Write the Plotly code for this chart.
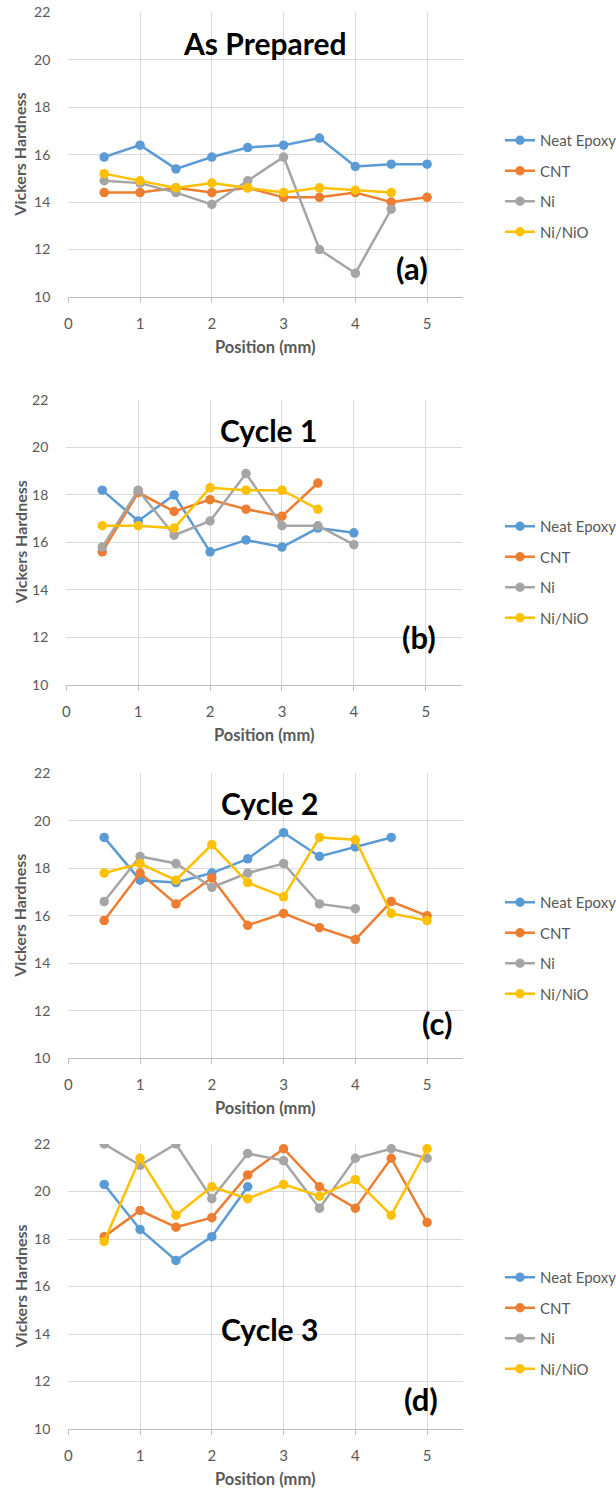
import plotly.graph_objects as go

positions = [0.5, 1.0, 1.5, 2.0, 2.5, 3.0, 3.5, 4.0, 4.5, 5.0]
series_names = ["Neat Epoxy", "CNT", "Ni", "Ni/NiO"]
colors = ["#5B9BD5", "#ED7D31", "#A5A5A5", "#FFC000"]

# (a) As Prepared
a_neat = [15.9, 16.4, 15.4, 15.9, 16.3, 16.4, 16.7, 15.5, 15.6, 15.6]
a_cnt = [14.4, 14.4, 14.6, 14.4, 14.6, 14.2, 14.2, 14.4, 14.0, 14.2]
a_ni = [14.9, 14.8, 14.4, 13.9, 14.9, 15.9, 12.0, 11.0, 13.7]
a_ninio = [15.2, 14.9, 14.6, 14.8, 14.6, 14.4, 14.6, 14.5, 14.4]

# (b) Cycle 1
b_neat = [18.2, 16.9, 18.0, 15.6, 16.1, 15.8, 16.6, 16.4]
b_cnt = [15.6, 18.1, 17.3, 17.8, 17.4, 17.1, 18.5]
b_ni = [15.8, 18.2, 16.3, 16.9, 18.9, 16.7, 16.7, 15.9]
b_ninio = [16.7, 16.7, 16.6, 18.3, 18.2, 18.2, 17.4]

# (c) Cycle 2
c_neat = [19.3, 17.5, 17.4, 17.8, 18.4, 19.5, 18.5, 18.9, 19.3]
c_cnt = [15.8, 17.8, 16.5, 17.6, 15.6, 16.1, 15.5, 15.0, 16.6, 16.0]
c_ni = [16.6, 18.5, 18.2, 17.2, 17.8, 18.2, 16.5, 16.3]
c_ninio = [17.8, 18.2, 17.5, 19.0, 17.4, 16.8, 19.3, 19.2, 16.1, 15.8]

# (d) Cycle 3
d_neat = [20.3, 18.4, 17.1, 18.1, 20.2]
d_cnt = [18.1, 19.2, 18.5, 18.9, 20.7, 21.8, 20.2, 19.3, 21.4, 18.7]
d_ni = [22.0, 21.1, 22.0, 19.7, 21.6, 21.3, 19.3, 21.4, 21.8, 21.4]
d_ninio = [17.9, 21.4, 19.0, 20.2, 19.7, 20.3, 19.8, 20.5, 19.0, 21.8]

panel_titles = ["As Prepared", "Cycle 1", "Cycle 2", "Cycle 3"]
panel_labels = ["(a)", "(b)", "(c)", "(d)"]
panels = [
    [a_neat, a_cnt, a_ni, a_ninio],
    [b_neat, b_cnt, b_ni, b_ninio],
    [c_neat, c_cnt, c_ni, c_ninio],
    [d_neat, d_cnt, d_ni, d_ninio],
]

x_ticks = [0, 1, 2, 3, 4, 5]
y_ticks = [10, 12, 14, 16, 18, 20, 22]
x_title = "Position (mm)"
y_title = "Vickers Hardness"

W, H = 616, 1492
FONT = "Lato"
GRAY_TXT = "#595959"

# plot areas in pixels: (left, right, top, bottom)
boxes = [
    (68.3, 463.0, 12.3, 297.0),
    (66.3, 461.7, 400.0, 684.7),
    (68.3, 463.0, 773.3, 1058.3),
    (68.3, 463.0, 1144.0, 1429.0),
]
# title / label anchor (data coords)
title_pos = [(2.74, 20.71), (2.81, 20.74), (2.80, 20.76), (2.80, 14.2)]
label_pos = [(4.79, 11.23), (4.91, 12.02), (5.15, 11.5), (4.92, 11.25)]
legend_tops = [124, 510, 886, 1261]

fig = go.Figure()
layout = dict(
    width=W, height=H,
    margin=dict(l=0, r=0, t=0, b=0, autoexpand=False),
    paper_bgcolor="white", plot_bgcolor="white",
    font=dict(family=FONT, color=GRAY_TXT, size=14),
    annotations=[],
)

for i, (data, box) in enumerate(zip(panels, boxes)):
    n = i + 1
    xa = "x" if n == 1 else f"x{n}"
    ya = "y" if n == 1 else f"y{n}"
    lg = "legend" if n == 1 else f"legend{n}"
    for j, (vals, name, col) in enumerate(zip(data, series_names, colors)):
        fig.add_trace(go.Scatter(
            x=positions[:len(vals)], y=vals, name=name,
            mode="lines+markers",
            line=dict(color=col, width=2.5),
            marker=dict(color=col, size=9.5),
            xaxis=xa, yaxis=ya, legend=lg,
            legendgroup=f"{n}-{j}",
        ))
    l, r, t, b = box
    xdom = [l / W, r / W]
    ydom = [1 - b / H, 1 - t / H]
    xkey = "xaxis" if n == 1 else f"xaxis{n}"
    ykey = "yaxis" if n == 1 else f"yaxis{n}"
    layout[xkey] = dict(
        domain=xdom, anchor=ya, range=[0, 5.5], automargin=False,
        tickvals=x_ticks, showgrid=True, gridcolor="#D9D9D9", gridwidth=1,
        zeroline=False, showline=True, linecolor="#BFBFBF", linewidth=1,
        ticks="outside", ticklen=5, tickcolor="#BFBFBF",
        tickfont=dict(family=FONT, size=15, color=GRAY_TXT),
        ticklabelstandoff=8,
    )
    layout[ykey] = dict(
        domain=ydom, anchor=xa, range=[10, 22], automargin=False,
        tickvals=y_ticks, showgrid=True, gridcolor="#D9D9D9", gridwidth=1,
        zeroline=False, showline=False,
        ticks="", tickfont=dict(family=FONT, size=14, color=GRAY_TXT),
        ticklabelstandoff=17,
    )
    layout[lg] = dict(
        x=500 / W, xanchor="left", y=1 - legend_tops[i] / H, yanchor="top",
        font=dict(family=FONT, size=15, color=GRAY_TXT),
        bgcolor="rgba(0,0,0,0)", tracegroupgap=8, traceorder="grouped",
    )
    layout["annotations"] += [
        dict(text=f"<b>{panel_titles[i]}</b>", x=title_pos[i][0], y=title_pos[i][1],
             xref=xa, yref=ya, showarrow=False, xanchor="center", yanchor="middle",
             font=dict(family=FONT, size=30, color="black")),
        dict(text=f"<b>{panel_labels[i]}</b>", x=label_pos[i][0], y=label_pos[i][1],
             xref=xa, yref=ya, showarrow=False, xanchor="center", yanchor="middle",
             font=dict(family=FONT, size=31, color="black")),
        dict(text=f"<b>{x_title}</b>", x=(l + r) / 2 / W, y=1 - (b + 50) / H,
             xref="paper", yref="paper", showarrow=False,
             xanchor="center", yanchor="middle",
             font=dict(family=FONT, size=16.5, color=GRAY_TXT)),
        dict(text=f"<b>{y_title}</b>", x=20 / W, y=1 - (t + b) / 2 / H,
             xref="paper", yref="paper", showarrow=False, textangle=-90,
             xanchor="center", yanchor="middle",
             font=dict(family=FONT, size=16, color=GRAY_TXT)),
    ]

fig.update_layout(**layout)
fig.write_html("out.html")
